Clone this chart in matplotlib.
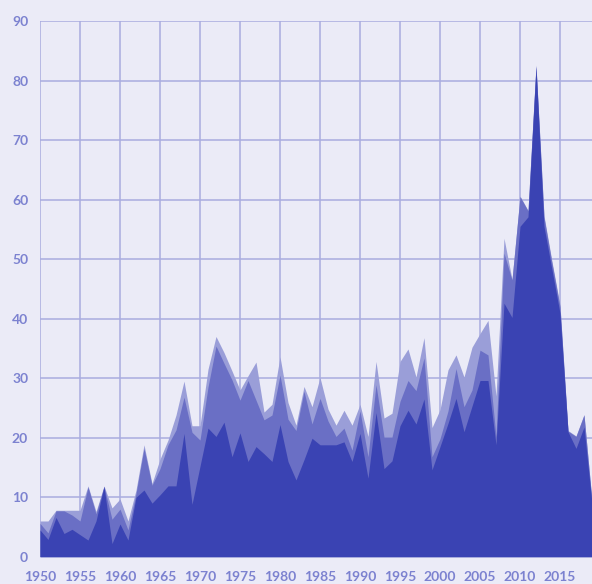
import matplotlib
matplotlib.use("Agg")
import matplotlib.pyplot as plt
import numpy as np

years = list(range(1950, 2020))
# stacked layers (cumulative tops)
dark_vals = [4.5, 2.9, 6.6, 3.9, 4.6, 3.7, 2.8, 6.0, 11.8, 2.2,
             5.5, 2.8, 10.0, 11.2, 9.0, 10.4, 11.9, 11.9, 20.7, 8.8,
             15.2, 21.6, 20.2, 22.6, 16.8, 20.8, 16.0, 18.5, 17.3, 16.0,
             22.2, 16.0, 12.9, 16.3, 19.9, 18.8, 18.8, 18.8, 19.3, 16.0,
             20.7, 13.2, 24.2, 14.8, 16.1, 22.0, 24.6, 22.3, 26.5, 14.6,
             18.5, 22.4, 26.6, 21.0, 25.3, 29.6, 29.6, 18.8, 42.6, 40.2,
             55.5, 57.1, 82.3, 55.5, 48.2, 40.9, 21.0, 18.2, 21.8, 9.0]
mid_tops = [5.6, 4.0, 7.7, 7.7, 7.0, 6.0, 11.7, 7.2, 11.8, 6.3,
            8.0, 4.5, 10.6, 18.2, 12.0, 14.8, 18.8, 21.3, 26.8, 20.9,
            19.6, 28.5, 35.4, 32.5, 29.7, 26.3, 29.6, 26.3, 23.0, 23.8,
            30.5, 23.1, 21.2, 27.8, 22.3, 26.6, 22.8, 20.2, 21.6, 17.9,
            24.5, 16.8, 28.9, 20.1, 20.1, 26.1, 29.6, 27.9, 33.4, 16.8,
            19.8, 24.5, 31.6, 25.2, 28.0, 34.7, 33.9, 20.2, 51.0, 46.5,
            60.5, 58.1, 82.5, 57.0, 49.3, 42.0, 21.1, 20.2, 23.8, 9.3]
light_tops = [6.0, 6.0, 7.8, 7.8, 7.8, 7.8, 11.9, 7.6, 11.9, 8.2,
              9.7, 6.0, 11.2, 18.8, 12.3, 16.4, 19.6, 23.8, 29.5, 22.0,
              22.0, 31.5, 37.0, 34.3, 31.2, 28.0, 30.4, 32.7, 24.3, 25.6,
              33.6, 25.9, 22.1, 28.6, 25.2, 30.1, 24.8, 22.1, 24.6, 22.1,
              25.6, 20.2, 32.8, 23.3, 24.1, 32.8, 34.9, 30.2, 36.8, 21.7,
              24.7, 31.4, 33.9, 30.2, 35.2, 37.5, 39.7, 27.0, 53.5, 46.6,
              60.6, 58.2, 82.6, 57.3, 49.6, 42.3, 21.2, 20.3, 23.9, 9.4]

x_ticks = list(range(1950, 2020, 5))
y_ticks = list(range(0, 100, 10))

BG = "#ebebf7"
GRID = "#a9acdf"
TXT = "#7c82d0"
C_DARK = "#3a43b3"
C_MID = "#6a6fc5"
C_LIGHT = "#9a9ed8"

fig = plt.figure(figsize=(5.92, 5.84), dpi=100, facecolor=BG)
ax = fig.add_axes([40/592, (584-556.7)/584, 552/592, 535.7/584])
ax.set_facecolor(BG)

y = np.array(years)
ax.fill_between(y, 0, light_tops, color=C_LIGHT, lw=0, zorder=2)
ax.fill_between(y, 0, mid_tops, color=C_MID, lw=0, zorder=3)
ax.fill_between(y, 0, dark_vals, color=C_DARK, lw=0, zorder=4)

ax.set_xlim(1950, 2019)
ax.set_ylim(0, 90)
ax.set_xticks(x_ticks)
ax.set_yticks(y_ticks)
ax.set_xticklabels([str(t) for t in x_ticks])
ax.set_yticklabels([str(t) for t in y_ticks])
ax.grid(True, color=GRID, lw=1.1, zorder=0)
ax.set_axisbelow(True)
for s in ax.spines.values():
    s.set_visible(False)
ax.tick_params(length=0, colors=TXT, labelsize=10)
ax.tick_params(axis="y", pad=8.5)
ax.tick_params(axis="x", pad=10)
for lab in ax.get_xticklabels() + ax.get_yticklabels():
    lab.set_fontweight("bold")
    lab.set_fontfamily("Lato")
    lab.set_color(TXT)

fig.savefig("out.png", dpi=100, facecolor=BG)
